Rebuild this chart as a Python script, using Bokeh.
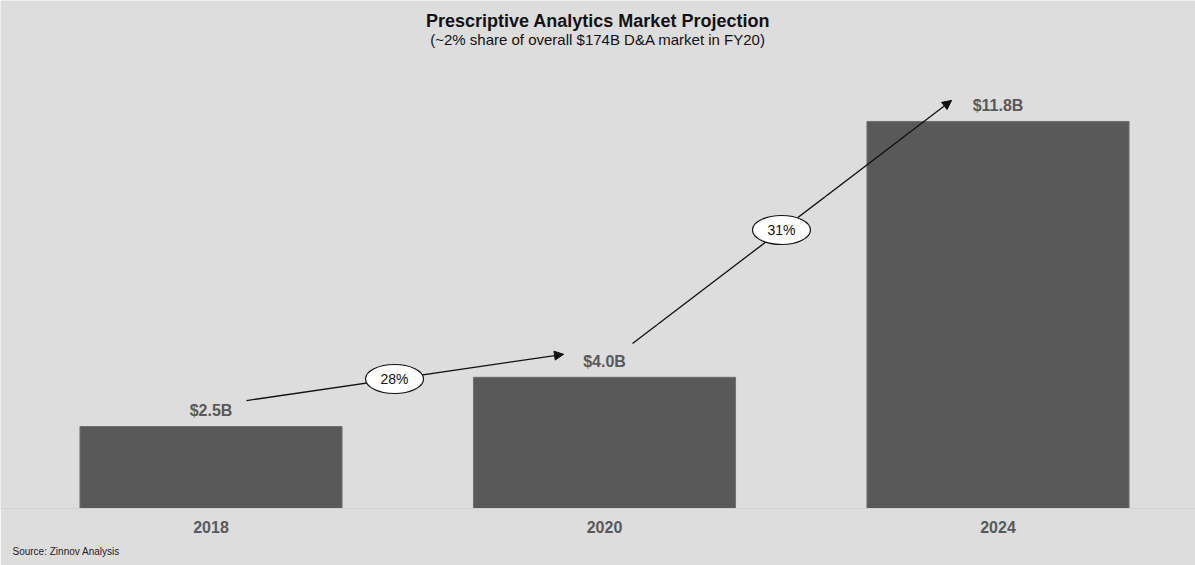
from bokeh.plotting import figure
from bokeh.models import Range1d, Label, Arrow, NormalHead, ColumnDataSource, Title
from bokeh.core.properties import value
from bokeh.embed import file_html
from bokeh.resources import INLINE

# ---- data ----
years = ["2018", "2020", "2024"]
market_size_bn = [2.5, 4.0, 11.8]
value_labels = ["$2.5B", "$4.0B", "$11.8B"]
cagr_labels = ["28%", "31%"]

title_text = "Prescriptive Analytics Market Projection"
subtitle_text = "(~2% share of overall $174B D&A market in FY20)"
source_text = "Source: Zinnov Analysis"

# ---- layout / style ----
W, H = 1195, 565
FRAME_H = 508
PX_X = 393.5
PX_Y = 32.8
X_START = -210.5 / PX_X
X_END = X_START + W / PX_X
Y_START = 0.0
Y_END = FRAME_H / PX_Y
BG = "#dddddd"
BAR = "#595959"
FONT = value("Liberation Sans")

xs = list(range(len(years)))
src = ColumnDataSource(dict(x=xs, top=market_size_bn, label=value_labels))

p = figure(width=W, height=H, output_backend="svg", toolbar_location=None,
           x_range=Range1d(X_START, X_END), y_range=Range1d(Y_START, Y_END),
           min_border_left=0, min_border_right=0, min_border_top=0,
           min_border_bottom=H - FRAME_H,
           background_fill_color=BG, border_fill_color=BG,
           outline_line_color=None)
p.grid.visible = False
p.yaxis.visible = False
xa = p.xaxis[0]
xa.ticker = xs
xa.major_label_overrides = {i: y for i, y in enumerate(years)}
xa.major_tick_out = 0
xa.major_tick_in = 0
xa.minor_tick_out = 0
xa.minor_tick_in = 0
xa.axis_line_color = "#d2d2d2"
xa.major_label_standoff = 12
xa.major_label_text_font = "Liberation Sans"
xa.major_label_text_font_style = "bold"
xa.major_label_text_font_size = "16px"
xa.major_label_text_color = BAR

p.add_layout(Title(text=source_text, align="left", offset=12, standoff=17,
                   text_font="Liberation Sans", text_font_style="normal",
                   text_font_size="10px", text_color="#222222"), "below")

p.vbar(x="x", top="top", width=0.666, source=src,
       fill_color=BAR, line_color="#707070", line_width=1)

p.text(x="x", y="top", text="label", source=src, y_offset=-16,
       text_align="center", text_baseline="middle", text_font=FONT,
       text_font_style="bold", text_font_size="16px", text_color=BAR)

# growth arrows (positions in data space)
arrow_paths = [((0.0902, 3.29), (0.8958, 4.70)),
               ((1.0712, 5.03), (1.8818, 12.44))]
x0 = [a[0][0] for a in arrow_paths]
y0 = [a[0][1] for a in arrow_paths]
x1 = [a[1][0] for a in arrow_paths]
y1 = [a[1][1] for a in arrow_paths]
p.segment(x0=x0, y0=y0, x1=x1, y1=y1, line_color="#111111", line_width=1.3)
for (sx, sy), (ex, ey) in arrow_paths:
    p.add_layout(Arrow(end=NormalHead(size=9, fill_color="#111111", line_color="#111111"),
                       x_start=ex - 0.03 * (ex - sx), y_start=ey - 0.03 * (ey - sy),
                       x_end=ex, y_end=ey, line_alpha=0))

t = 0.467
ex_c = [a[0][0] + t * (a[1][0] - a[0][0]) for a in arrow_paths]
ey_c = [a[0][1] + t * (a[1][1] - a[0][1]) for a in arrow_paths]
p.ellipse(x=ex_c, y=ey_c, width=58, height=29, width_units="screen",
          height_units="screen", fill_color="white", line_color="#111111",
          line_width=1.2)
p.text(x=ex_c, y=ey_c, text=cagr_labels, text_align="center",
       text_baseline="middle", text_font=FONT, text_font_size="14px",
       text_color="#111111")

xc = X_START + 597.5 / PX_X
p.add_layout(Label(x=xc, y=Y_END - 20 / PX_Y, text=title_text,
                   text_align="center", text_baseline="middle",
                   text_font="Liberation Sans", text_font_style="bold",
                   text_font_size="18px", text_color="#111111"))
p.add_layout(Label(x=xc, y=Y_END - 39 / PX_Y, text=subtitle_text,
                   text_align="center", text_baseline="middle",
                   text_font="Liberation Sans", text_font_size="15px",
                   text_color="#111111"))

open("out.html", "w").write(file_html(p, INLINE))
